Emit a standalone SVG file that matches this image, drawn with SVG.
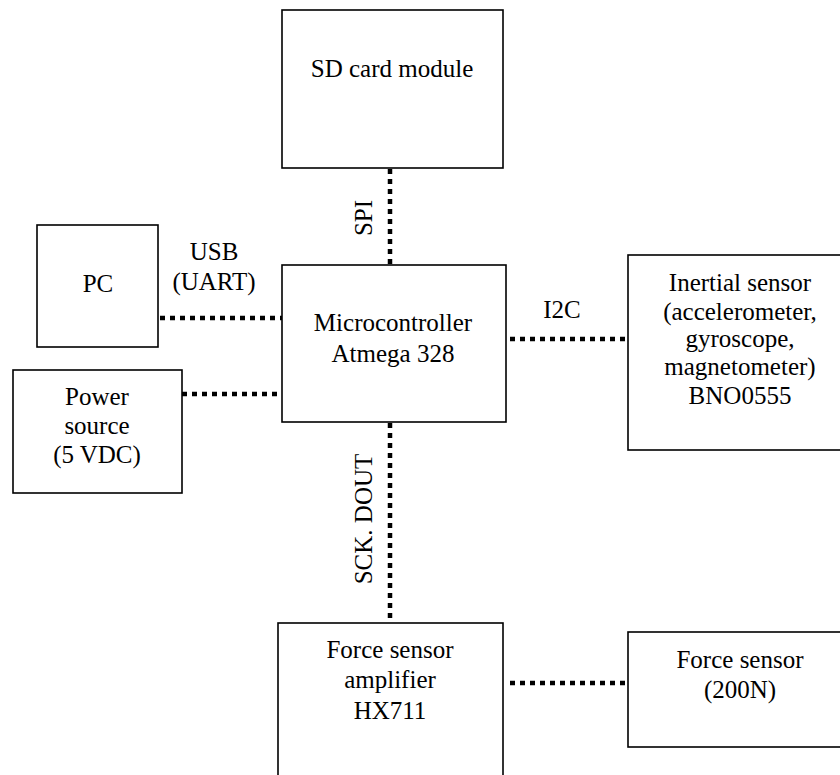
<svg xmlns="http://www.w3.org/2000/svg" width="840" height="775" viewBox="0 0 840 775">
<style>
.box{fill:#fff;stroke:#000;stroke-width:1.6}
text{font-family:"Liberation Serif","Times New Roman",serif;font-size:25px;fill:#000;text-anchor:middle}
.con{stroke:#000;stroke-width:4.5;stroke-dasharray:5 5;fill:none}
</style>
<rect width="840" height="775" fill="#fff"/>
<g id="connectors">
<line class="con" x1="390" y1="169" x2="390" y2="265"/>
<line class="con" x1="160" y1="318" x2="282" y2="318"/>
<line class="con" x1="182" y1="394" x2="282" y2="394"/>
<line class="con" x1="510" y1="339" x2="628" y2="339"/>
<line class="con" x1="390" y1="423" x2="390" y2="623"/>
<line class="con" x1="510" y1="683" x2="628" y2="683"/>
<text transform="translate(372,218) rotate(-90)">SPI</text>
<text transform="translate(372,519) rotate(-90)">SCK. DOUT</text>
<text x="214" y="260">USB</text>
<text x="214" y="290">(UART)</text>
<text x="562" y="318">I2C</text>
</g>
<g id="sd">
<rect class="box" x="282" y="10" width="221" height="158"/>
<text x="392" y="77">SD card module</text>
</g>
<g id="pc">
<rect class="box" x="37" y="225" width="121" height="122"/>
<text x="98" y="292">PC</text>
</g>
<g id="power">
<rect class="box" x="13" y="370" width="169" height="123"/>
<text x="97" y="405">Power</text>
<text x="97" y="434">source</text>
<text x="97" y="463">(5 VDC)</text>
</g>
<g id="mcu">
<rect class="box" x="282" y="265" width="224" height="157"/>
<text x="393" y="331">Microcontroller</text>
<text x="393" y="362">Atmega 328</text>
</g>
<g id="imu">
<rect class="box" x="628" y="255" width="224" height="195"/>
<text x="740" y="291">Inertial sensor</text>
<text x="740" y="320">(accelerometer,</text>
<text x="740" y="347">gyroscope,</text>
<text x="740" y="375">magnetometer)</text>
<text x="740" y="404">BNO0555</text>
</g>
<g id="amp">
<rect class="box" x="278" y="623" width="225" height="170"/>
<text x="390" y="658">Force sensor</text>
<text x="390" y="688">amplifier</text>
<text x="390" y="719">HX711</text>
</g>
<g id="force">
<rect class="box" x="628" y="632" width="224" height="115"/>
<text x="740" y="668">Force sensor</text>
<text x="740" y="698">(200N)</text>
</g>
</svg>
